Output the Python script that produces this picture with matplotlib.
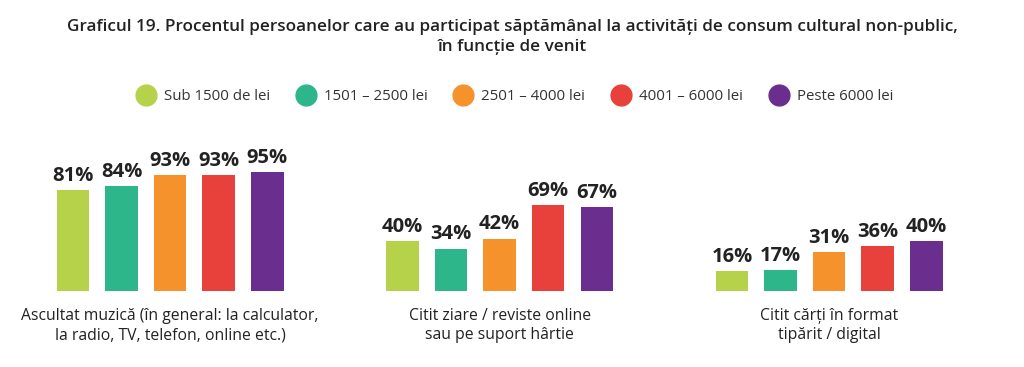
import matplotlib.pyplot as plt

plt.rcParams['font.family'] = ['Open Sans', 'DejaVu Sans']

# --- Data ---
categories = [
    "Ascultat muzică (în general: la calculator,\nla radio, TV, telefon, online etc.)",
    "Citit ziare / reviste online\nsau pe suport hârtie",
    "Citit cărți în format\ntipărit / digital",
]
income_groups = ["Sub 1500 de lei", "1501 – 2500 lei", "2501 – 4000 lei",
                 "4001 – 6000 lei", "Peste 6000 lei"]
sub_1500 = [81, 40, 16]
r1501_2500 = [84, 34, 17]
r2501_4000 = [93, 42, 31]
r4001_6000 = [93, 69, 36]
peste_6000 = [95, 67, 40]
series = [sub_1500, r1501_2500, r2501_4000, r4001_6000, peste_6000]
colors = ["#b6d24b", "#2db68a", "#f5922b", "#e8403a", "#6a2f8e"]

# --- Layout ---
fig = plt.figure(figsize=(10.24, 3.67), dpi=100)
# baseline at ~291px from top, 1% ~ 1.25px
ax = fig.add_axes([0, 76 / 367, 1, 160 / 367])
unit = 48.6          # pixels per bar slot
group_gap = 6.78     # in bar slots
bar_w = 0.67

for i, (vals, col, name) in enumerate(zip(series, colors, income_groups)):
    xs = [g * group_gap + i for g in range(len(categories))]
    ax.bar(xs, vals, width=bar_w, color=col, label=name)
    for x, v in zip(xs, vals):
        ax.annotate(f"{v}%", (x, v), xytext=(0, 3), textcoords="offset points",
                    ha="center", va="bottom", fontsize=14.5, fontweight="bold",
                    color="#222222")

ax.set_xlim(-1.5, -1.5 + 1024 / unit)
ax.set_ylim(0, 160 / 1.25)
ax.axis("off")

# category labels under each group
for g, cat in enumerate(categories):
    ax.annotate(cat, (g * group_gap + 2, 0), xytext=(0, -12),
                textcoords="offset points", ha="center", va="top",
                fontsize=11.3, color="#222222", linespacing=1.3)

fig.text(0.5, 1 - 37 / 367,
         "Graficul 19. Procentul persoanelor care au participat săptămânal la activități de consum cultural non-public,\nîn funcție de venit",
         ha="center", va="center", fontsize=12.3, fontweight="semibold",
         color="#222222", linespacing=1.35)

handles = [plt.Line2D([], [], marker="o", linestyle="", markersize=15,
                      markerfacecolor=c, markeredgecolor=c) for c in colors]
fig.legend(handles, income_groups, loc="center", bbox_to_anchor=(0.5, 1 - 97 / 367),
           ncol=5, frameon=False, fontsize=10.8, handletextpad=0.2,
           columnspacing=1.4, labelcolor="#333333")

fig.savefig("out.png", dpi=100)
